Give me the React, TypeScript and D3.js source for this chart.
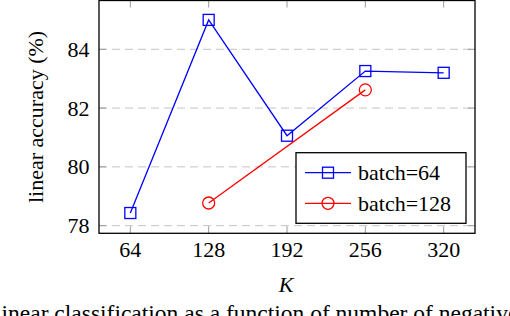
import React from 'react';
import * as d3 from 'd3';

const kValues = [64, 128, 192, 256, 320];
const batch64 = [78.43, 85.0, 81.06, 83.26, 83.2];
const batch128K = [128, 256];
const batch128 = [78.77, 82.62];
const yTicks = [78, 80, 82, 84];
const seriesNames = ['batch=64', 'batch=128'];

const W = 510;
const H = 316;
const M = { left: 99, right: 475, top: 0.5, bottom: 233.3 };
const FONT = '"Liberation Serif", "Times New Roman", serif';

const App = () => {
  const x = d3.scaleLinear().domain([38.4, 345.6]).range([M.left, M.right]);
  const y = d3.scaleLinear().domain([77.74, 85.66]).range([M.bottom, M.top]);

  const line = d3.line<[number, number]>()
    .x(d => x(d[0]))
    .y(d => y(d[1]));

  const pts64: [number, number][] = kValues.map((k, i) => [k, batch64[i]]);
  const pts128: [number, number][] = batch128K.map((k, i) => [k, batch128[i]]);

  const tickLen = 7;
  const sq = 11;

  // legend
  const lg = { x0: 296, x1: 466, y0: 152.7, y1: 223.3 };
  const rows = [172.7, 203.3];

  return (
    <svg width={W} height={H} style={{ position: 'absolute', left: 0, top: 0 }} fontFamily={FONT}>
      <rect width={W} height={H} fill="#fff" />
      {/* grid */}
      {yTicks.map(t => (
        <line key={'g' + t} x1={M.left} x2={M.right} y1={y(t)} y2={y(t)}
          stroke="#c4c4c4" strokeWidth={1} strokeDasharray="8,5" />
      ))}
      {/* ticks */}
      {kValues.map(k => (
        <g key={'xt' + k} stroke="#999" strokeWidth={1}>
          <line x1={x(k)} x2={x(k)} y1={M.bottom} y2={M.bottom - tickLen} />
          <line x1={x(k)} x2={x(k)} y1={M.top} y2={M.top + tickLen} />
        </g>
      ))}
      {yTicks.map(t => (
        <g key={'yt' + t} stroke="#999" strokeWidth={1}>
          <line x1={M.left} x2={M.left + tickLen} y1={y(t)} y2={y(t)} />
          <line x1={M.right} x2={M.right - tickLen} y1={y(t)} y2={y(t)} />
        </g>
      ))}
      {/* series */}
      <path d={line(pts64) || ''} fill="none" stroke="#0000ff" strokeWidth={1.3} />
      {pts64.map((p, i) => (
        <rect key={'s' + i} x={x(p[0]) - sq / 2} y={y(p[1]) - sq / 2} width={sq} height={sq}
          fill="none" stroke="#0000ff" strokeWidth={1.3} />
      ))}
      <path d={line(pts128) || ''} fill="none" stroke="#ff0000" strokeWidth={1.3} />
      {pts128.map((p, i) => (
        <circle key={'c' + i} cx={x(p[0])} cy={y(p[1])} r={6}
          fill="none" stroke="#ff0000" strokeWidth={1.3} />
      ))}
      {/* frame */}
      <rect x={M.left} y={M.top} width={M.right - M.left} height={M.bottom - M.top}
        fill="none" stroke="#000" strokeWidth={1.3} />
      {/* tick labels */}
      {kValues.map(k => (
        <text key={'xl' + k} x={x(k)} y={256.5} textAnchor="middle" fontSize={22}>{k}</text>
      ))}
      {yTicks.map(t => (
        <text key={'yl' + t} x={89.5} y={y(t) + 7.5} textAnchor="end" fontSize={22}>{t}</text>
      ))}
      {/* axis labels */}
      <text x={286} y={292} textAnchor="middle" fontSize={22} fontStyle="italic">K</text>
      <text transform={`translate(43,${(M.top + M.bottom) / 2}) rotate(-90)`} textAnchor="middle" fontSize={22}>
        linear accuracy (%)
      </text>
      {/* legend */}
      <rect x={lg.x0} y={lg.y0} width={lg.x1 - lg.x0} height={lg.y1 - lg.y0}
        fill="#fff" stroke="#000" strokeWidth={1.3} />
      {seriesNames.map((name, i) => (
        <g key={name}>
          <line x1={305} x2={351} y1={rows[i]} y2={rows[i]}
            stroke={i === 0 ? '#0000ff' : '#ff0000'} strokeWidth={1.3} />
          {i === 0 ? (
            <rect x={328 - sq / 2} y={rows[i] - sq / 2} width={sq} height={sq}
              fill="none" stroke="#0000ff" strokeWidth={1.3} />
          ) : (
            <circle cx={328} cy={rows[i]} r={6} fill="none" stroke="#ff0000" strokeWidth={1.3} />
          )}
          <text x={358} y={rows[i] + 7.5} fontSize={22}>{name}</text>
        </g>
      ))}
      {/* caption (cut off at the bottom edge, as in the source figure) */}
      <text x={-5} y={321} fontSize={23.5}>linear classification as a function of number of negative</text>
    </svg>
  );
};

export default App;
